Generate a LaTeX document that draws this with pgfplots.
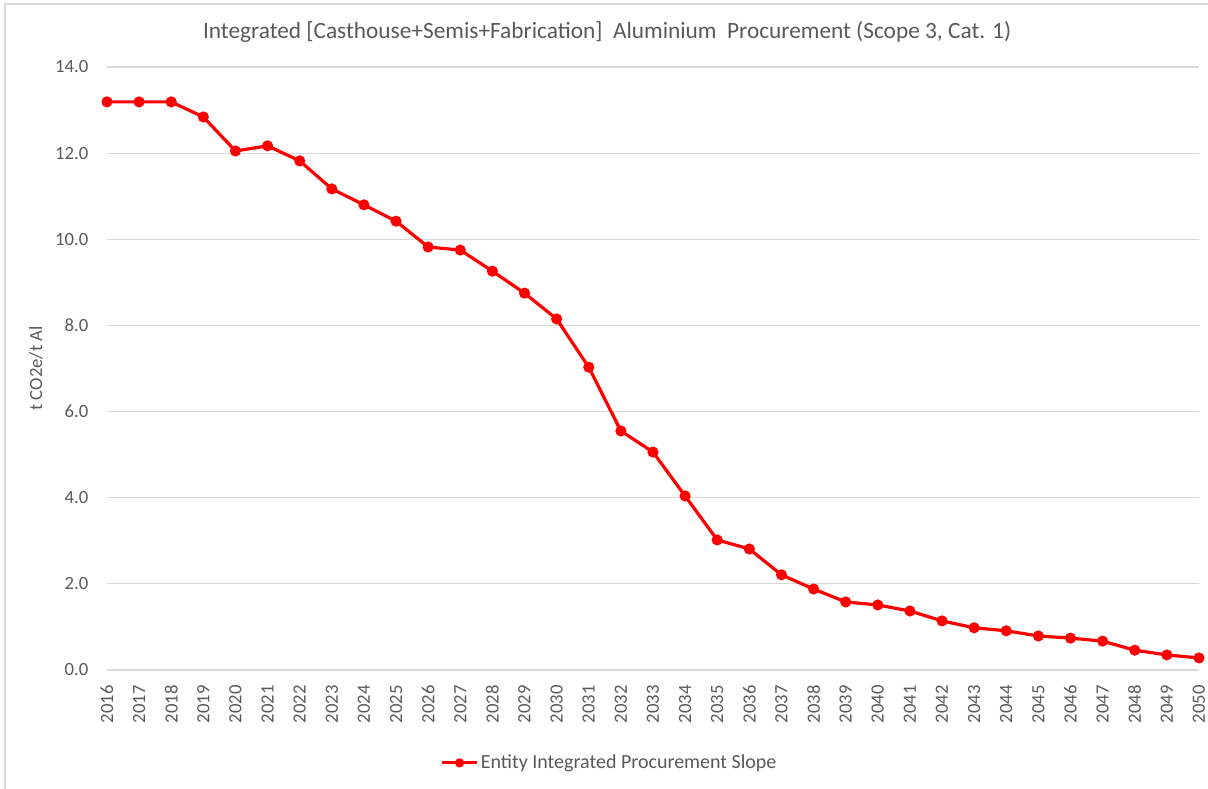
\documentclass[border=0pt]{standalone}
\usepackage{pgfplots}
\pgfplotsset{compat=1.18}
\usepackage{fontspec}
\setmainfont{Carlito}
\definecolor{txt}{RGB}{89,89,89}
\definecolor{grd}{RGB}{217,217,217}
\definecolor{frm}{RGB}{217,217,217}
\begin{document}
\begin{tikzpicture}
\path[use as bounding box] (0pt,0pt) rectangle (906pt,591.75pt);
\draw[frm,line width=1.5pt] (3.75pt,0pt) -- (3.75pt,588.75pt) -- (906pt,588.75pt);
\begin{axis}[
  at={(80.25pt,89.25pt)}, anchor=south west,
  scale only axis, width=819pt, height=452.25pt,
  xmin=2016, xmax=2050, ymin=0, ymax=14,
  xtick={2016,...,2050}, ytick={0,2,...,14},
  axis line style={draw=none},
  major tick length=0pt,
  ymajorgrids, grid style={grd, line width=0.9pt},
  /pgf/number format/assume math mode=true,
  x tick label style={/pgf/number format/1000 sep={}, yshift=-8pt, rotate=90, anchor=east, font=\fontsize{14}{16}\selectfont, color=txt},
  y tick label style={/pgf/number format/.cd, fixed, fixed zerofill, precision=1, /tikz/.cd, xshift=-10.5pt, font=\fontsize{14}{16}\selectfont, color=txt},
  xticklabel style={/pgf/number format/1000 sep={}},
  title={Integrated [Casthouse+Semis+Fabrication]\ \ Aluminium\ \ Procurement (Scope 3, Cat. 1)},
  title style={at={(axis description cs:0.458,1.045)}, anchor=center, font=\fontsize{17.5}{20}\selectfont, color=txt},
  ylabel={t CO2e/t Al},
  ylabel style={at={(axis description cs:-0.065,0.5)}, anchor=center, rotate=0, font=\fontsize{14}{16}\selectfont, color=txt},
  legend style={at={(axis description cs:0.4606,-0.154)}, anchor=center, draw=none, font=\fontsize{15}{17}\selectfont, text=txt, legend cell align=left},
  legend image code/.code={\draw[#1, mark repeat=2, mark phase=2, mark size=2.2pt] plot coordinates {(0cm,0cm) (0.45cm,0cm) (0.9cm,0cm)};},
]
\addplot[red, line width=2.4pt, mark=*, mark size=2.9pt, mark options={solid}] coordinates {
(2016,13.19) (2017,13.19) (2018,13.19) (2019,12.84) (2020,12.05) (2021,12.17)
(2022,11.82) (2023,11.17) (2024,10.80) (2025,10.42) (2026,9.82) (2027,9.75)
(2028,9.26) (2029,8.75) (2030,8.15) (2031,7.03) (2032,5.55) (2033,5.06)
(2034,4.04) (2035,3.02) (2036,2.81) (2037,2.21) (2038,1.88) (2039,1.58)
(2040,1.51) (2041,1.37) (2042,1.14) (2043,0.98) (2044,0.91) (2045,0.79)
(2046,0.74) (2047,0.67) (2048,0.46) (2049,0.35) (2050,0.28)
};
\addlegendentry{Entity Integrated Procurement Slope}
\end{axis}
\end{tikzpicture}
\end{document}
